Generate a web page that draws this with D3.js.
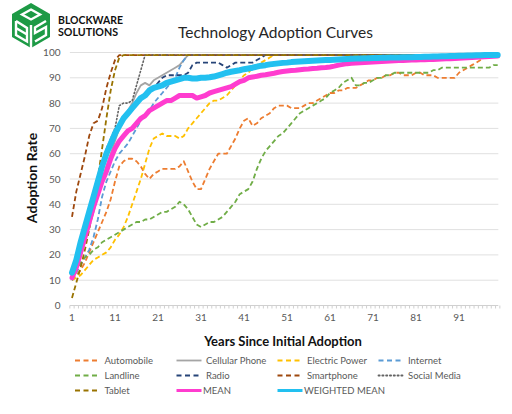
<!DOCTYPE html>
<html>
<head>
<meta charset="utf-8">
<script src="https://cdn.jsdelivr.net/npm/d3@7"></script>
<style>
  body { margin: 0; background: #fff; }
  svg { display: block; }
  text { font-family: Lato, "Open Sans", sans-serif; }
</style>
</head>
<body>
<svg id="chart" width="512" height="414"></svg>
<script>
// ---------------- DATA ----------------
const years = d3.range(1, 101);
const xTickLabels = [1, 11, 21, 31, 41, 51, 61, 71, 81, 91];
const yTickLabels = [0, 10, 20, 30, 40, 50, 60, 70, 80, 90, 100];

const automobile = [10,12,14,17,21,25,29,33,37,42, 49,55,57,58,58,57,55,52,50,52,
  53,54,54,54,54,55,57,53,49,46, 46,50,54,57,60,60,60,63,66,70,
  73,74,71,72,74,75,76,78,79,79, 79,78,78,78,79,80,80,81,82,83,
  84,84,85,85,86,86,86,87,88,89, 89,90,90,91,91,92,92,91,91,91,
  92,92,91,91,91,90,90,90,90,90, 92,93,94,95,96,97,98,98,99,99];
const cellularPhone = [10,14,19,25,31,37,43,49,55,60, 65,70,74,77,80,84,87,88,87,89,
  90,91,92,93,94,95,97,99,99,99, 99,99,99,99,99,99,99,99,99,99,
  99,99,99,99,99,99,99,99,99,99, 99,99,99,99,99,99,99,99,99,99,
  99,99,99,99,99,99,99,99,99,99, 99,99,99,99,99,99,99,99,99,99,
  99,99,99,99,99,99,99,99,99,99, 99,99,99,99,99,99,99,99,99,99];
const electricPower = [10,11,12,14,16,18,19,20,21,23, 26,28,31,35,40,45,50,56,62,66,
  67,68,67,67,67,66,67,70,72,74, 76,78,80,81,81,82,83,85,87,89,
  91,92,94,95,96,97,98,99,99,99, 99,99,99,99,99,99,99,99,99,99,
  99,99,99,99,99,99,99,99,99,99, 99,99,99,99,99,99,99,99,99,99,
  99,99,99,99,99,99,99,99,99,99, 99,99,99,99,99,99,99,99,99,99];
const internet = [10,13,16,19,22,27,34,43,49,53, 57,60,62,64,67,70,73,75,77,80,
  82,84,86,88,90,94,97,99,99,99, 99,99,99,99,99,99,99,99,99,99,
  99,99,99,99,99,99,99,99,99,99, 99,99,99,99,99,99,99,99,99,99,
  99,99,99,99,99,99,99,99,99,99, 99,99,99,99,99,99,99,99,99,99,
  99,99,99,99,99,99,99,99,99,99, 99,99,99,99,99,99,99,99,99,99];
const landline = [10,14,17,19,20,22,23,25,26,27, 28,29,30,31,32,33,33,34,34,35,
  36,37,37,38,39,41,40,38,35,32, 31,32,33,33,34,35,37,39,41,44,
  45,46,49,54,58,61,63,65,67,68, 70,72,74,76,77,78,79,80,81,82,
  84,85,86,88,89,90,87,87,88,88, 89,90,90,91,91,92,92,92,92,92,
  92,92,92,92,93,93,94,94,94,94, 94,94,94,94,94,94,94,94,95,95];
const radio = [11,16,22,29,36,43,50,56,61,65, 68,71,74,76,78,80,82,84,85,86,
  88,90,91,91,91,91,91,92,95,96, 96,96,96,96,96,95,94,95,96,96,
  96,96,96,97,98,99,99,99,99,99, 99,99,99,99,99,99,99,99,99,99,
  99,99,99,99,99,99,99,99,99,99, 99,99,99,99,99,99,99,99,99,99,
  99,99,99,99,99,99,99,99,99,99, 99,99,99,99,99,99,99,99,99,99];
const smartphone = [35,45,52,59,67,72,73,78,86,92, 97,99,99,99,99,99,99,99,99,99,
  99,99,99,99,99,99,99,99,99,99, 99,99,99,99,99,99,99,99,99,99,
  99,99,99,99,99,99,99,99,99,99, 99,99,99,99,99,99,99,99,99,99,
  99,99,99,99,99,99,99,99,99,99, 99,99,99,99,99,99,99,99,99,99,
  99,99,99,99,99,99,99,99,99,99, 99,99,99,99,99,99,99,99,99,99];
const socialMedia = [12,18,25,32,39,45,51,57,62,66, 70,79,80,80,81,87,93,99,99,99,
  99,99,99,99,99,99,99,99,99,99, 99,99,99,99,99,99,99,99,99,99,
  99,99,99,99,99,99,99,99,99,99, 99,99,99,99,99,99,99,99,99,99,
  99,99,99,99,99,99,99,99,99,99, 99,99,99,99,99,99,99,99,99,99,
  99,99,99,99,99,99,99,99,99,99, 99,99,99,99,99,99,99,99,99,99];
const tablet = [3,9,15,22,30,39,50,62,74,85, 93,98,99,99,99,99,99,99,99,99,
  99,99,99,99,99,99,99,99,99,99, 99,99,99,99,99,99,99,99,99,99,
  99,99,99,99,99,99,99,99,99,99, 99,99,99,99,99,99,99,99,99,99,
  99,99,99,99,99,99,99,99,99,99, 99,99,99,99,99,99,99,99,99,99,
  99,99,99,99,99,99,99,99,99,99, 99,99,99,99,99,99,99,99,99,99];
const mean = [11,15,21,27,33,39,44,49,53,58, 62,65,67,69,70,72,74,75,77,78,
  79,80,81,81,82,83,83,83,83,82, 82.5,83,84,84.5,85,85.5,86,86.5,87.5,88.5,
  89,90,90.3,90.6,91,91.2,91.5,91.8,92.2,92.5, 92.7,92.9,93,93.2,93.4,93.5,93.7,93.8,94,94.1,
  94.3,94.6,95,95.3,95.6,95.7,95.8,95.9,96,96.1, 96.2,96.3,96.4,96.5,96.6,96.7,96.8,96.8,96.9,97,
  97,97.1,97.1,97.2,97.2,97.3,97.4,97.5,97.5,97.6, 97.7,97.8,97.9,98,98.1,98.2,98.3,98.4,98.5,98.6];
const weightedMean = [13,18,25,31,37,43,49,55,60,64, 68,71,74,76,78,80,82,83,85,86,
  86.5,87,88,88.5,89,89.5,90,90,89.7,89.7, 90,90,90.2,90.5,91,91.5,92,92.4,92.7,93,
  93.4,93.7,94,94.4,94.8,95,95.3,95.5,95.7,95.9, 96,96.2,96.3,96.4,96.5,96.6,96.7,96.8,96.9,97,
  97,97.1,97.2,97.3,97.4,97.5,97.6,97.6,97.7,97.7, 97.8,97.8,97.9,97.9,98,98,98,98.1,98.1,98.1,
  98.2,98.2,98.3,98.3,98.4,98.4,98.5,98.5,98.6,98.6, 98.7,98.7,98.8,98.8,98.9,98.9,99,99,99,99];

const seriesNames = ["Automobile","Cellular Phone","Electric Power","Internet","Landline","Radio",
  "Smartphone","Social Media","Tablet","MEAN","WEIGHTED MEAN"];
const seriesValues = [automobile, cellularPhone, electricPower, internet, landline, radio,
  smartphone, socialMedia, tablet, mean, weightedMean];

// ---------------- STYLES ----------------
const seriesColors = ["#ED7D31","#A5A5A5","#FFC000","#5B9BD5","#70AD47","#264478",
  "#9E480E","#636363","#997300","#FF3CCF","#22C0F0"];
const seriesDash = ["5,3", null, "5,3", "5,3", "5,3", "5,3", "5,3", "1.2,2.4", "5,3", null, null];
const seriesWidth = [1.8, 1.8, 1.8, 1.8, 1.8, 1.8, 1.8, 1.6, 1.8, 5, 6];

// ---------------- CHART ----------------
const svg = d3.select("#chart");
svg.append("rect").attr("width", 512).attr("height", 414).attr("fill", "#fff");

const plotLeft = 69.85, plotRight = 499.85, plotTop = 52.5, plotBottom = 305.5;
const x = d3.scaleLinear().domain([0.5, 100.5]).range([plotLeft, plotRight]);
const y = d3.scaleLinear().domain([0, 100]).range([plotBottom, plotTop]);

// Logo
const logo = svg.append("g").attr("class", "logo");
logo.append("polygon")
  .attr("points", "31,3 50,14 50,37 31,48 12,37 12,14")
  .attr("fill", "#1d9a45");
const wl = logo.append("g").attr("fill", "none").attr("stroke", "#fff").attr("stroke-width", 2.4)
  .attr("stroke-linejoin", "miter");
wl.append("polygon").attr("points", "31,9.5 40,14.5 31,19.5 22,14.5");
wl.append("path").attr("d", "M31,25 L31,48");
wl.append("path").attr("d", "M16,21 L16,35 L27,41.5 L27,28 L16,21 M16,28 L27,34.5");
wl.append("path").attr("d", "M46,21 L35,27.5 L35,33 L46,27 L46,35 L35,41.5");
logo.append("text").attr("x", 58).attr("y", 23.5)
  .attr("font-family", "'DejaVu Sans Condensed', 'DejaVu Sans', sans-serif")
  .attr("font-weight", "bold").attr("font-size", 11).attr("fill", "#111")
  .attr("textLength", 65).attr("lengthAdjust", "spacingAndGlyphs")
  .text("BLOCKWARE");
logo.append("text").attr("x", 58).attr("y", 36)
  .attr("font-family", "'DejaVu Sans Condensed', 'DejaVu Sans', sans-serif")
  .attr("font-weight", "bold").attr("font-size", 11).attr("fill", "#111")
  .attr("textLength", 60).attr("lengthAdjust", "spacingAndGlyphs")
  .text("SOLUTIONS");

// Title
svg.append("text").attr("x", 275.5).attr("y", 37.5).attr("text-anchor", "middle")
  .attr("font-size", 15.5).attr("fill", "#262626").text("Technology Adoption Curves");

// Gridlines
svg.append("g").selectAll("line").data(yTickLabels).join("line")
  .attr("x1", plotLeft).attr("x2", plotRight - 1.5)
  .attr("y1", d => y(d)).attr("y2", d => y(d))
  .attr("stroke", d => d === 0 ? "#d0d0d0" : "#e0e0e0").attr("stroke-width", 1);

// X minor ticks
svg.append("g").selectAll("line").data(d3.range(0, 101)).join("line")
  .attr("x1", d => x(d + 0.5)).attr("x2", d => x(d + 0.5))
  .attr("y1", plotBottom).attr("y2", plotBottom + 3)
  .attr("stroke", "#d0d0d0").attr("stroke-width", 1);

// Y tick labels
svg.append("g").selectAll("text").data(yTickLabels).join("text")
  .attr("x", 60.5).attr("y", d => y(d) + 3.5).attr("text-anchor", "end")
  .attr("font-size", 10).attr("fill", "#595959").text(d => d);

// X tick labels
svg.append("g").selectAll("text").data(xTickLabels).join("text")
  .attr("x", d => x(d)).attr("y", 321).attr("text-anchor", "middle")
  .attr("font-size", 10).attr("fill", "#595959").text(d => d);

// Axis titles
svg.append("text").attr("x", 283).attr("y", 346).attr("text-anchor", "middle")
  .attr("font-size", 13).attr("font-weight", "bold").attr("fill", "#111")
  .text("Years Since Initial Adoption");
svg.append("text").attr("transform", "translate(37,178) rotate(-90)").attr("text-anchor", "middle")
  .attr("font-size", 14).attr("font-weight", "bold").attr("fill", "#111")
  .text("Adoption Rate");

// Lines
const line = d3.line().x((d, i) => x(years[i])).y(d => y(d)).curve(d3.curveLinear);
const gLines = svg.append("g");
seriesValues.forEach((vals, k) => {
  gLines.append("path").datum(vals)
    .attr("d", line)
    .attr("fill", "none")
    .attr("stroke", seriesColors[k])
    .attr("stroke-width", seriesWidth[k])
    .attr("stroke-dasharray", seriesDash[k])
    .attr("stroke-linecap", k === 7 ? "round" : (k >= 9 ? "round" : "butt"))
    .attr("stroke-linejoin", "round");
});

// Legend
const legCols = [75, 176.5, 277.5, 378.5];
const legRows = [360.5, 375.5, 390.5];
const leg = svg.append("g");
seriesNames.forEach((name, k) => {
  const cx = legCols[k % 4], cy = legRows[Math.floor(k / 4)];
  leg.append("line").attr("x1", cx).attr("x2", cx + 25).attr("y1", cy).attr("y2", cy)
    .attr("stroke", seriesColors[k])
    .attr("stroke-width", k >= 9 ? 3 : 1.8)
    .attr("stroke-dasharray", k === 7 ? "1.2,2.6" : (seriesDash[k] ? "5,3.5" : null))
    .attr("stroke-linecap", k === 7 ? "round" : "butt");
  leg.append("text").attr("x", cx + (k >= 9 ? 26.5 : 29.5)).attr("y", cy + 3.3)
    .attr("font-size", 9.5).attr("fill", "#595959").text(name);
});
</script>
</body>
</html>
